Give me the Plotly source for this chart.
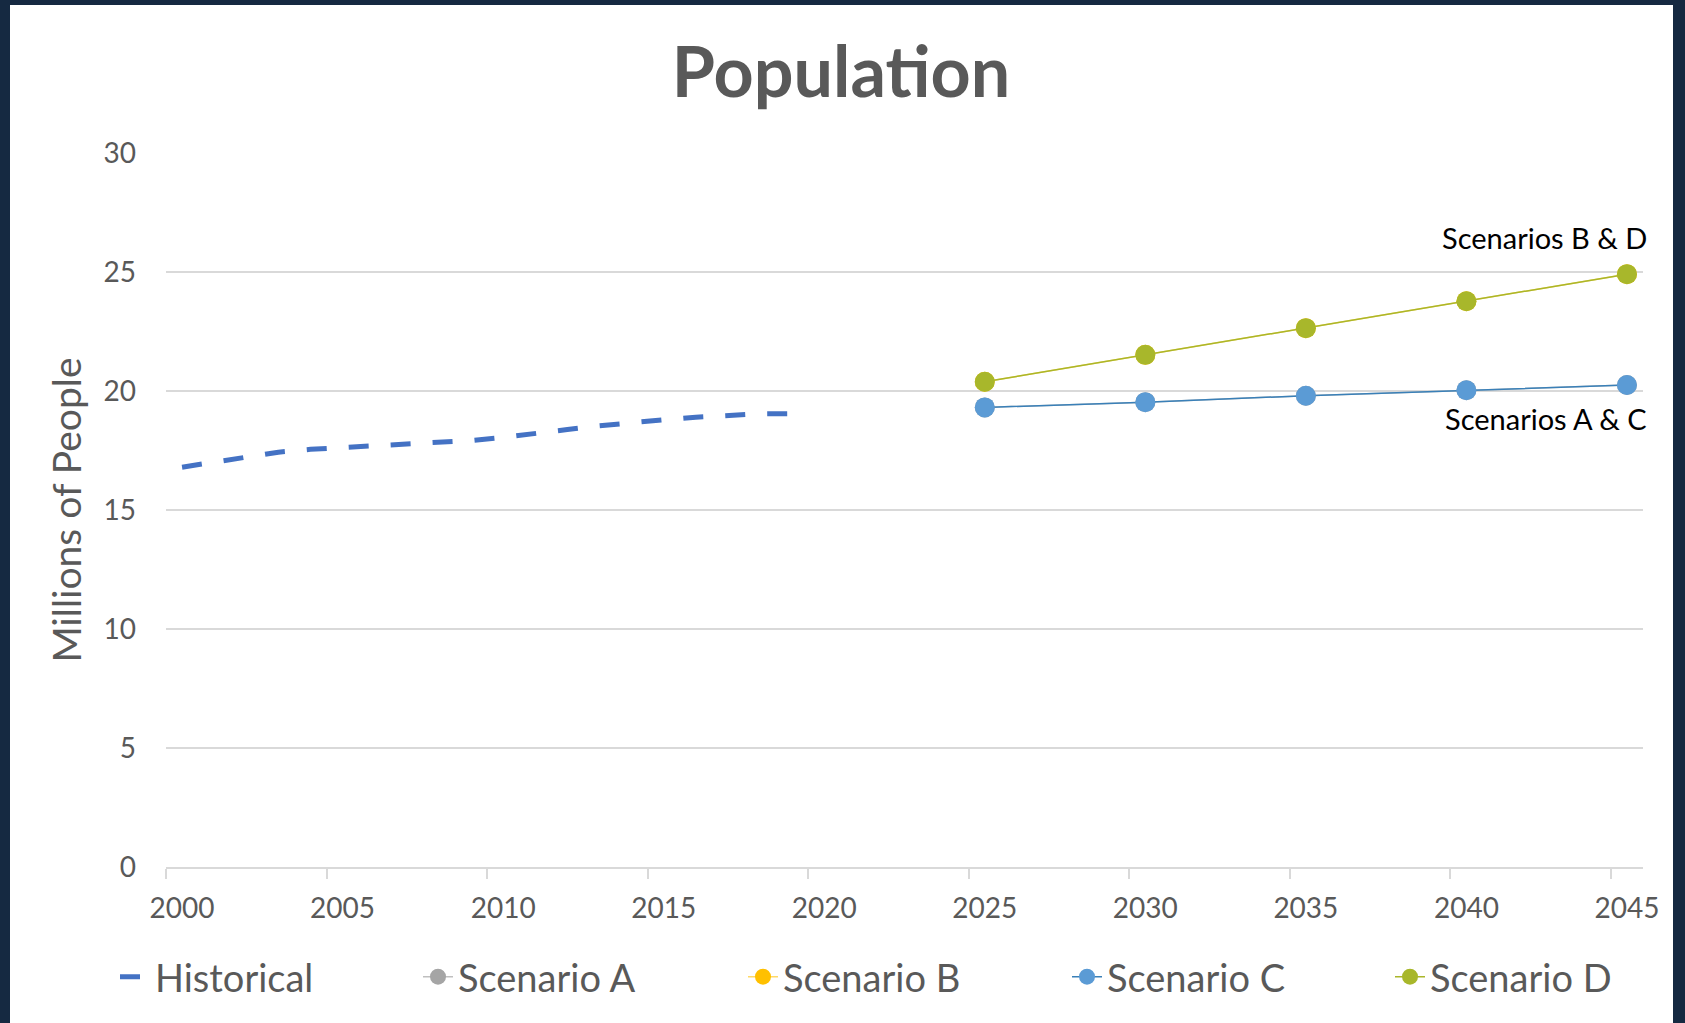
import plotly.graph_objects as go

# ---------------- data ----------------
hist_years = list(range(2000, 2020))
hist_values = [16.80, 17.01, 17.22, 17.43, 17.55, 17.62, 17.68, 17.77, 17.86, 17.92,
               18.05, 18.24, 18.38, 18.54, 18.69, 18.79, 18.90, 18.98, 19.04, 19.05]

scen_years = [2025, 2030, 2035, 2040, 2045]
scen_a = [19.31, 19.53, 19.80, 20.03, 20.25]
scen_b = [20.39, 21.52, 22.64, 23.77, 24.91]
scen_c = [19.31, 19.53, 19.80, 20.03, 20.25]
scen_d = [20.39, 21.52, 22.64, 23.77, 24.91]

x_label_years = list(range(2000, 2046, 5))
x_boundary_ticks = [y - 0.5 for y in x_label_years]
y_ticks = [0, 5, 10, 15, 20, 25, 30]

series_names = ["Historical", "Scenario A", "Scenario B", "Scenario C", "Scenario D"]
label_bd = "Scenarios B & D"
label_ac = "Scenarios A & C"

# ---------------- layout constants ----------------
W, H = 1685, 1023
ML, MR, MT, MB = 166, 42, 153, 156
PW, PH = W - ML - MR, H - MT - MB
TXT = "#595959"
GRID = "#d9d9d9"
FONT = "Lato"


def px_x(px):
    return (px - ML) / PW


def px_y(py):
    return (H - MB - py) / PH


fig = go.Figure()

fig.add_trace(go.Scatter(
    x=hist_years, y=hist_values, name=series_names[0], mode="lines",
    line=dict(color="#4472c4", width=5, dash="20px,22px"),
    legend="legend"))

styles = [
    (scen_a, "#a5a5a5", "#bfbfbf", "legend2"),
    (scen_b, "#ffc000", "#ffd966", "legend3"),
    (scen_c, "#5b9bd5", "#3a80b8", "legend4"),
    (scen_d, "#a8b72b", "#aab62a", "legend5"),
]
for name, (vals, mcol, lcol, lg) in zip(series_names[1:], styles):
    fig.add_trace(go.Scatter(
        x=scen_years, y=vals, name=name, mode="lines+markers",
        line=dict(color=lcol, width=1.5),
        marker=dict(color=mcol, size=20),
        legend=lg))

fig.add_annotation(x=scen_years[-1], y=scen_d[-1], xref="x", yref="y",
                   text=label_bd, showarrow=False, xanchor="right", yanchor="middle",
                   xshift=22, yshift=37, font=dict(family=FONT, size=29, color="#000000"))
fig.add_annotation(x=scen_years[-1], y=scen_c[-1], xref="x", yref="y",
                   text=label_ac, showarrow=False, xanchor="right", yanchor="middle",
                   xshift=22, yshift=-33, font=dict(family=FONT, size=29, color="#000000"))

# white card on a dark frame
fig.add_shape(type="rect", xref="paper", yref="paper",
              x0=px_x(10), x1=px_x(1673), y0=px_y(1040), y1=px_y(5),
              fillcolor="white", line=dict(width=0), layer="below")

legend_text_starts = [157, 460, 785, 1109, 1432]
legend_common = dict(orientation="h", yanchor="middle", xanchor="left",
                     bgcolor="rgba(0,0,0,0)", borderwidth=0,
                     font=dict(family=FONT, size=38, color=TXT))
legends = {}
for i, ts in enumerate(legend_text_starts):
    key = "legend" if i == 0 else f"legend{i+1}"
    legends[key] = dict(legend_common, x=px_x(ts - 42), y=px_y(977))

fig.update_layout(
    width=W, height=H,
    margin=dict(l=ML, r=MR, t=MT, b=MB, pad=0),
    paper_bgcolor="#152941",
    plot_bgcolor="white",
    font=dict(family=FONT, color=TXT),
    title=dict(text="<b>Population</b>", x=841 / W, xanchor="center",
               y=1 - 72 / H, yanchor="middle", xref="container", yref="container",
               font=dict(family=FONT, size=70, color=TXT)),
    xaxis=dict(range=[1999.5, 2045.5], tickmode="array", tickvals=x_label_years,
               ticktext=[str(v) for v in x_label_years], ticks="",
               showgrid=False, zeroline=False, showline=True, linecolor=GRID, linewidth=1.5,
               tickfont=dict(family=FONT, size=28, color=TXT), ticklabelstandoff=16,
               minor=dict(tickmode="array", tickvals=x_boundary_ticks, ticks="outside",
                          ticklen=10, tickwidth=1.5, tickcolor=GRID, showgrid=False)),
    yaxis=dict(range=[0, 30], tickmode="array", tickvals=y_ticks, ticks="",
               showgrid=True, gridcolor=GRID, gridwidth=1.5, zeroline=False, showline=False,
               tickfont=dict(family=FONT, size=28, color=TXT), ticklabelstandoff=29,
               title=dict(text="Millions of People", standoff=9,
                          font=dict(family=FONT, size=39, color=TXT))),
    showlegend=True,
    **legends,
)

fig.write_html("out.html")
